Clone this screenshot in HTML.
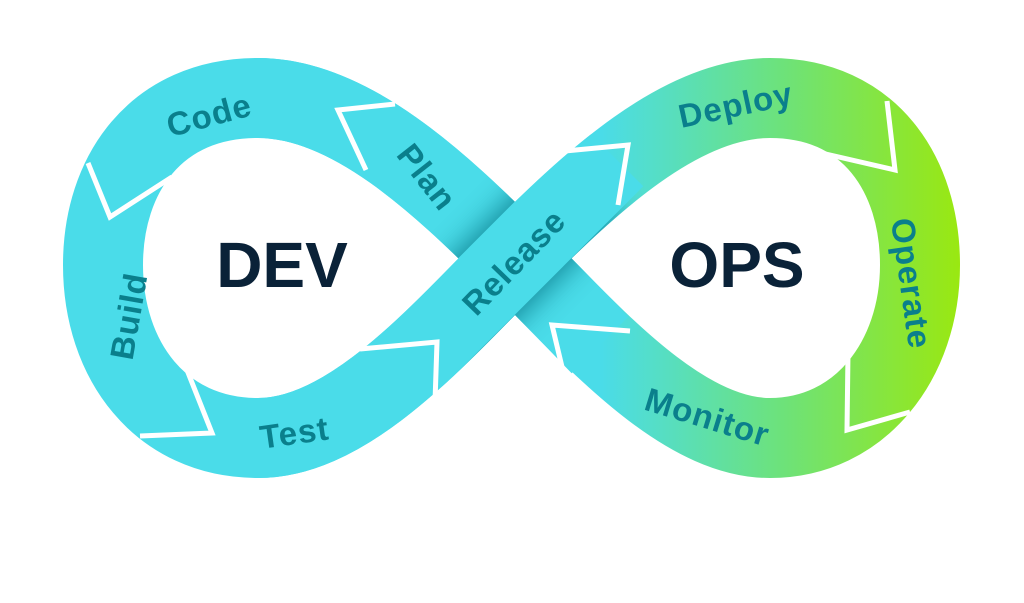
<!DOCTYPE html>
<html><head><meta charset="utf-8"><style>
html,body{margin:0;padding:0;background:#fff;width:1024px;height:603px;overflow:hidden}
svg{display:block}
text{font-family:"Liberation Sans",sans-serif}
</style></head><body>
<svg width="1024" height="603" viewBox="0 0 1024 603">
<defs>
<linearGradient id="g" gradientUnits="userSpaceOnUse" x1="600" y1="0" x2="965" y2="0">
<stop offset="0" stop-color="#4adce9"/>
<stop offset="0.5" stop-color="#6de27a"/>
<stop offset="1" stop-color="#9be80e"/>
</linearGradient>
<mask id="m" maskUnits="userSpaceOnUse" x="0" y="0" width="1024" height="603">
<path d="M515,258 C590,183 680,98 770,98 C870,98 920,175 920,265 C920,360 860,438 770,438 C680,438 590,333 515,258 C440,183 350,98 258,98 C155,98 103,175 103,265 C103,360 160,438 258,438 C350,438 440,333 515,258 Z" fill="none" stroke="#fff" stroke-width="80"/>
</mask>
<filter id="b" x="-50%" y="-50%" width="200%" height="200%"><feGaussianBlur stdDeviation="14"/></filter>
</defs>
<path d="M515,258 C590,183 680,98 770,98 C870,98 920,175 920,265 C920,360 860,438 770,438 C680,438 590,333 515,258 C440,183 350,98 258,98 C155,98 103,175 103,265 C103,360 160,438 258,438 C350,438 440,333 515,258 Z" fill="none" stroke="url(#g)" stroke-width="80"/>
<path d="M258,98 C350,98 440,183 515,258 C560,303 590,335 600,345 M258,438 C350,438 440,333 515,258" fill="none" stroke="#4adce9" stroke-width="80"/>
<g mask="url(#m)">
<line x1="440" y1="333" x2="590" y2="183" stroke="#046f80" stroke-width="90" opacity="0.75" filter="url(#b)"/>
<line x1="415" y1="358" x2="615" y2="158" stroke="#4adce9" stroke-width="80"/>
</g>
<g fill="none" stroke="#fff" stroke-width="5" stroke-linejoin="miter">
<polyline points="395,104 338,110 366,170"/>
<polyline points="88,163 110,217 172,177"/>
<polyline points="187,370 212,433 140,436"/>
<polyline points="360,349 437,342 435,402"/>
<polyline points="565,151 628,145 618,205"/>
<polyline points="887,101 895,170 817,152"/>
<polyline points="848,353 847,430 910,412"/>
<polyline points="630,331 552,325 568,392"/>
</g>
<g fill="#0a7f8c" font-size="33" font-weight="bold" text-anchor="middle" letter-spacing="1">
<text transform="translate(212,126) rotate(-15)">Code</text>
<text transform="translate(418,184) rotate(52)">Plan</text>
<text transform="translate(140,318) rotate(-80)">Build</text>
<text transform="translate(296,444) rotate(-8)">Test</text>
<text transform="translate(522,270) rotate(-46)">Release</text>
<text transform="translate(738,116) rotate(-12)">Deploy</text>
<text transform="translate(900,285) rotate(82)">Operate</text>
<text transform="translate(704,428) rotate(17)">Monitor</text>
</g>
<g fill="#0a2238" font-size="64" font-weight="bold" text-anchor="middle">
<text x="282" y="287">DEV</text>
<text x="737" y="287">OPS</text>
</g>
</svg>
</body></html>
